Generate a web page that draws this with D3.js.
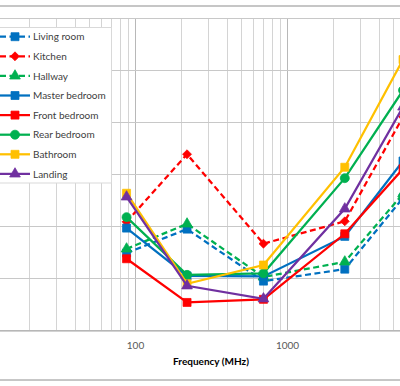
<!DOCTYPE html>
<html>
<head>
<meta charset="utf-8">
<script src="https://cdn.jsdelivr.net/npm/d3@7"></script>
<style>
  body { margin: 0; background: #fff; }
</style>
</head>
<body>
<script>
//
// data
//
var freqs = [88, 220, 700, 2400, 5800];
var xDecades = [10, 100, 1000, 10000];
var xLabels = [100, 1000];          // the only tick labels inside the window
var yTicks = [0, 10, 20, 30, 40, 50, 60];

var livingRoom    = [14.8, 19.4,  9.4, 11.7, 25.4];
var kitchen       = [20.8, 33.8, 16.6, 20.9, 41.0];
var hallway       = [15.6, 20.4, 10.2, 13.1, 26.2];
var masterBedroom = [19.6, 10.4, 10.3, 18.0, 32.5];
var frontBedroom  = [13.7,  5.3,  5.9, 18.5, 31.0];
var rearBedroom   = [21.7, 10.6, 10.9, 29.2, 46.1];
var bathroom      = [26.3,  8.9, 12.5, 31.3, 52.0];
var landing       = [25.6,  8.5,  6.0, 23.3, 42.9];

var series = [
  { name: "Living room",    values: livingRoom,    color: "#0070C0", dash: true,  marker: "square" },
  { name: "Kitchen",        values: kitchen,       color: "#FF0000", dash: true,  marker: "diamond" },
  { name: "Hallway",        values: hallway,       color: "#00B050", dash: true,  marker: "triangle" },
  { name: "Master bedroom", values: masterBedroom, color: "#0070C0", dash: false, marker: "square" },
  { name: "Front bedroom",  values: frontBedroom,  color: "#FF0000", dash: false, marker: "square" },
  { name: "Rear bedroom",   values: rearBedroom,   color: "#00B050", dash: false, marker: "circle" },
  { name: "Bathroom",       values: bathroom,      color: "#FFC000", dash: false, marker: "square" },
  { name: "Landing",        values: landing,       color: "#7030A0", dash: false, marker: "triangle" }
];

var W = 400, H = 386;
var font = "Lato, 'Open Sans', sans-serif";

//
// svg + chart frame (chart is wider than the window, left/right are cut)
//
var svg = d3.select("body")
  .append("svg")
  .attr("width", W)
  .attr("height", H)
  ;

svg.append("rect")
  .attr("x", -30)
  .attr("y", 6)
  .attr("width", W + 60)
  .attr("height", 374)
  .attr("fill", "#fff")
  .attr("stroke", "#b4b4b4")
  .attr("stroke-width", 1.5)
  ;

//
// scales
//
var x = d3.scaleLog().domain([10, 10000]).range([-17, 439]);
var y = d3.scaleLinear().domain([0, 60]).range([330, 18]);

//
// grid
//
var minor = [];
[10, 100, 1000].forEach(function(dec) {
  for (var k = 2; k <= 9; k++) minor.push(dec * k);
});

var grid = svg.append("g").attr("class", "grid");
grid.selectAll("line.minor")
  .data(minor)
  .enter().append("line")
  .attr("class", "minor")
  .attr("x1", function(d) { return Math.round(x(d)) + 0.5; })
  .attr("x2", function(d) { return Math.round(x(d)) + 0.5; })
  .attr("y1", y(60))
  .attr("y2", y(0))
  .attr("stroke", "#d4d4d4")
  ;
grid.selectAll("line.major")
  .data(xDecades)
  .enter().append("line")
  .attr("class", "major")
  .attr("x1", function(d) { return Math.round(x(d)) + 0.5; })
  .attr("x2", function(d) { return Math.round(x(d)) + 0.5; })
  .attr("y1", y(60))
  .attr("y2", y(0))
  .attr("stroke", "#b8b8b8")
  ;
grid.selectAll("line.h")
  .data(yTicks)
  .enter().append("line")
  .attr("class", "h")
  .attr("x1", x(10))
  .attr("x2", x(10000))
  .attr("y1", function(d) { return Math.round(y(d)) + 0.5; })
  .attr("y2", function(d) { return Math.round(y(d)) + 0.5; })
  .attr("stroke", "#c8c8c8")
  ;

//
// axes
//
var xAxis = svg.append("g")
  .attr("transform", "translate(0," + (y(0) + 0.5) + ")")
  .call(d3.axisBottom(x).tickValues(xLabels).tickFormat(d3.format("d")).tickSize(0).tickPadding(11))
  ;
xAxis.select(".domain").attr("stroke", "#a6a6a6");
xAxis.selectAll("text")
  .attr("font-family", font)
  .attr("font-size", 10)
  .attr("fill", "#595959")
  ;

svg.append("text")
  .attr("x", (x(10) + x(10000)) / 2)
  .attr("y", 364.5)
  .attr("text-anchor", "middle")
  .attr("font-family", font)
  .attr("font-size", 10)
  .attr("font-weight", "bold")
  .attr("fill", "#000")
  .text("Frequency (MHz)")
  ;

//
// markers
//
var diamond = {
  draw: function(ctx, size) {
    var r = Math.sqrt(size / 2);
    ctx.moveTo(0, -r);
    ctx.lineTo(r, 0);
    ctx.lineTo(0, r);
    ctx.lineTo(-r, 0);
    ctx.closePath();
  }
};
var symbolFor = {
  square: d3.symbolSquare,
  diamond: diamond,
  triangle: d3.symbolTriangle,
  circle: d3.symbolCircle
};
var sizeFor = { square: 64, diamond: 40, triangle: 50, circle: 64 };

addMarker = function(g, s, cx, cy) {
  g.append("path")
    .attr("d", d3.symbol().type(symbolFor[s.marker]).size(sizeFor[s.marker])())
    .attr("transform", "translate(" + cx + "," + cy + ")")
    .attr("fill", s.color)
    .attr("stroke", s.color)
    .attr("stroke-width", 0.75)
    ;
}

//
// series
//
var line = d3.line()
  .x(function(d, i) { return x(freqs[i]); })
  .y(function(d) { return y(d); })
  ;

series.forEach(function(s) {
  var g = svg.append("g").attr("class", "series");
  g.append("path")
    .attr("d", line(s.values))
    .attr("fill", "none")
    .attr("stroke", s.color)
    .attr("stroke-width", 2.25)
    .attr("stroke-dasharray", s.dash ? "6,3.5" : null)
    ;
  s.values.forEach(function(v, i) {
    addMarker(g, s, x(freqs[i]), y(v));
  });
});

//
// legend
//
var legend = svg.append("g").attr("class", "legend");
legend.append("rect")
  .attr("x", -10)
  .attr("y", 27.5)
  .attr("width", 121.5)
  .attr("height", 155.5)
  .attr("fill", "#fff")
  .attr("stroke", "#d9d9d9")
  ;

series.forEach(function(s, i) {
  var ly = 36.7 + i * 19.6;
  var row = legend.append("g");
  row.append("line")
    .attr("x1", 0)
    .attr("x2", 30)
    .attr("y1", ly)
    .attr("y2", ly)
    .attr("stroke", s.color)
    .attr("stroke-width", 2.25)
    .attr("stroke-dasharray", s.dash ? "6,3.5" : null)
    ;
  addMarker(row, s, 15, ly);
  row.append("text")
    .attr("x", 33)
    .attr("y", ly + 3.6)
    .attr("font-family", font)
    .attr("font-size", 10)
    .attr("fill", "#404040")
    .text(s.name)
    ;
});
</script>
</body>
</html>
